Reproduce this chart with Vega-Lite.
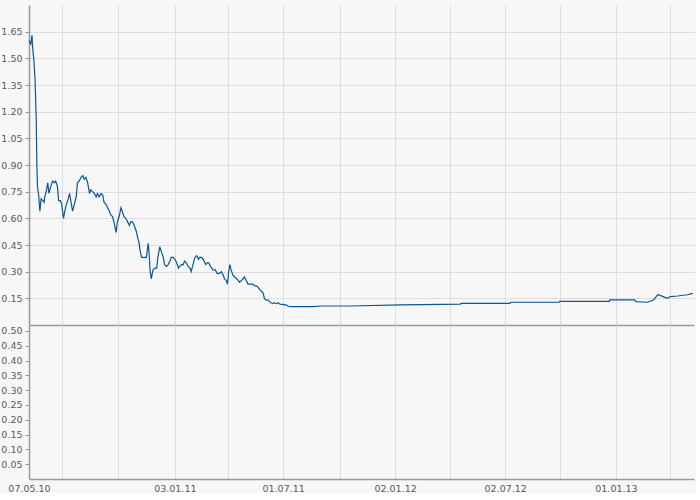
{
  "$schema": "https://vega.github.io/schema/vega-lite/v6.json",
  "background": "#f7f7f7",
  "padding": {"left": 0, "top": 5, "right": 0, "bottom": 0},
  "spacing": 0,
  "data": {
    "values": [
      {"d": "2010-05-07", "v": 1.60}, {"d": "2010-05-10", "v": 1.58}, {"d": "2010-05-12", "v": 1.63},
      {"d": "2010-05-13", "v": 1.56}, {"d": "2010-05-15", "v": 1.49}, {"d": "2010-05-17", "v": 1.38},
      {"d": "2010-05-19", "v": 1.15}, {"d": "2010-05-20", "v": 0.90}, {"d": "2010-05-21", "v": 0.78},
      {"d": "2010-05-23", "v": 0.73}, {"d": "2010-05-25", "v": 0.64}, {"d": "2010-05-27", "v": 0.71},
      {"d": "2010-05-30", "v": 0.70}, {"d": "2010-06-01", "v": 0.69}, {"d": "2010-06-02", "v": 0.72},
      {"d": "2010-06-05", "v": 0.76}, {"d": "2010-06-07", "v": 0.80}, {"d": "2010-06-09", "v": 0.74},
      {"d": "2010-06-12", "v": 0.78}, {"d": "2010-06-15", "v": 0.81}, {"d": "2010-06-18", "v": 0.80},
      {"d": "2010-06-20", "v": 0.81}, {"d": "2010-06-23", "v": 0.78}, {"d": "2010-06-25", "v": 0.70},
      {"d": "2010-06-28", "v": 0.70}, {"d": "2010-06-30", "v": 0.68}, {"d": "2010-07-03", "v": 0.60},
      {"d": "2010-07-04", "v": 0.62}, {"d": "2010-07-07", "v": 0.67}, {"d": "2010-07-10", "v": 0.70},
      {"d": "2010-07-13", "v": 0.74}, {"d": "2010-07-15", "v": 0.70}, {"d": "2010-07-18", "v": 0.64},
      {"d": "2010-07-21", "v": 0.68}, {"d": "2010-07-24", "v": 0.72}, {"d": "2010-07-26", "v": 0.80},
      {"d": "2010-07-29", "v": 0.81}, {"d": "2010-08-01", "v": 0.83}, {"d": "2010-08-04", "v": 0.84},
      {"d": "2010-08-06", "v": 0.82}, {"d": "2010-08-09", "v": 0.83}, {"d": "2010-08-12", "v": 0.80},
      {"d": "2010-08-15", "v": 0.74}, {"d": "2010-08-17", "v": 0.76}, {"d": "2010-08-20", "v": 0.75},
      {"d": "2010-08-23", "v": 0.74}, {"d": "2010-08-26", "v": 0.72}, {"d": "2010-08-28", "v": 0.74},
      {"d": "2010-08-31", "v": 0.72}, {"d": "2010-09-03", "v": 0.74}, {"d": "2010-09-06", "v": 0.73},
      {"d": "2010-09-08", "v": 0.69}, {"d": "2010-09-11", "v": 0.68}, {"d": "2010-09-14", "v": 0.66},
      {"d": "2010-09-17", "v": 0.64}, {"d": "2010-09-19", "v": 0.62}, {"d": "2010-09-22", "v": 0.61},
      {"d": "2010-09-25", "v": 0.57}, {"d": "2010-09-28", "v": 0.52}, {"d": "2010-09-30", "v": 0.58},
      {"d": "2010-10-03", "v": 0.61}, {"d": "2010-10-06", "v": 0.66}, {"d": "2010-10-09", "v": 0.63},
      {"d": "2010-10-11", "v": 0.61}, {"d": "2010-10-14", "v": 0.60}, {"d": "2010-10-17", "v": 0.58},
      {"d": "2010-10-20", "v": 0.56}, {"d": "2010-10-22", "v": 0.58}, {"d": "2010-10-25", "v": 0.58},
      {"d": "2010-10-28", "v": 0.56}, {"d": "2010-10-31", "v": 0.53}, {"d": "2010-11-02", "v": 0.50},
      {"d": "2010-11-05", "v": 0.46}, {"d": "2010-11-06", "v": 0.43}, {"d": "2010-11-09", "v": 0.38},
      {"d": "2010-11-12", "v": 0.38}, {"d": "2010-11-14", "v": 0.38}, {"d": "2010-11-17", "v": 0.38},
      {"d": "2010-11-20", "v": 0.46}, {"d": "2010-11-22", "v": 0.38}, {"d": "2010-11-23", "v": 0.31},
      {"d": "2010-11-25", "v": 0.26}, {"d": "2010-11-28", "v": 0.31}, {"d": "2010-12-01", "v": 0.32},
      {"d": "2010-12-04", "v": 0.32}, {"d": "2010-12-06", "v": 0.38}, {"d": "2010-12-09", "v": 0.44},
      {"d": "2010-12-12", "v": 0.41}, {"d": "2010-12-15", "v": 0.38}, {"d": "2010-12-17", "v": 0.34},
      {"d": "2010-12-20", "v": 0.33}, {"d": "2010-12-23", "v": 0.34}, {"d": "2010-12-26", "v": 0.36},
      {"d": "2010-12-28", "v": 0.38}, {"d": "2010-12-31", "v": 0.38}, {"d": "2011-01-03", "v": 0.37},
      {"d": "2011-01-06", "v": 0.35}, {"d": "2011-01-09", "v": 0.32}, {"d": "2011-01-11", "v": 0.33},
      {"d": "2011-01-14", "v": 0.34}, {"d": "2011-01-17", "v": 0.34}, {"d": "2011-01-19", "v": 0.36},
      {"d": "2011-01-22", "v": 0.35}, {"d": "2011-01-25", "v": 0.33}, {"d": "2011-01-28", "v": 0.32},
      {"d": "2011-01-30", "v": 0.30}, {"d": "2011-02-02", "v": 0.34}, {"d": "2011-02-05", "v": 0.38},
      {"d": "2011-02-08", "v": 0.39}, {"d": "2011-02-11", "v": 0.37}, {"d": "2011-02-13", "v": 0.38},
      {"d": "2011-02-16", "v": 0.38}, {"d": "2011-02-19", "v": 0.37}, {"d": "2011-02-23", "v": 0.34},
      {"d": "2011-02-26", "v": 0.35}, {"d": "2011-02-28", "v": 0.35}, {"d": "2011-03-03", "v": 0.33},
      {"d": "2011-03-07", "v": 0.31}, {"d": "2011-03-11", "v": 0.31}, {"d": "2011-03-14", "v": 0.29},
      {"d": "2011-03-18", "v": 0.29}, {"d": "2011-03-21", "v": 0.30}, {"d": "2011-03-24", "v": 0.28},
      {"d": "2011-03-26", "v": 0.26}, {"d": "2011-03-29", "v": 0.25}, {"d": "2011-03-31", "v": 0.23},
      {"d": "2011-04-02", "v": 0.30}, {"d": "2011-04-04", "v": 0.34}, {"d": "2011-04-06", "v": 0.31},
      {"d": "2011-04-09", "v": 0.28}, {"d": "2011-04-12", "v": 0.27}, {"d": "2011-04-15", "v": 0.26},
      {"d": "2011-04-18", "v": 0.25}, {"d": "2011-04-20", "v": 0.24}, {"d": "2011-04-23", "v": 0.25},
      {"d": "2011-04-26", "v": 0.26}, {"d": "2011-04-28", "v": 0.27}, {"d": "2011-05-01", "v": 0.25},
      {"d": "2011-05-04", "v": 0.23}, {"d": "2011-05-07", "v": 0.23}, {"d": "2011-05-09", "v": 0.23},
      {"d": "2011-05-12", "v": 0.23}, {"d": "2011-05-15", "v": 0.22}, {"d": "2011-05-18", "v": 0.22},
      {"d": "2011-05-21", "v": 0.21}, {"d": "2011-05-23", "v": 0.20}, {"d": "2011-05-26", "v": 0.19},
      {"d": "2011-05-29", "v": 0.18}, {"d": "2011-05-31", "v": 0.15}, {"d": "2011-06-03", "v": 0.14},
      {"d": "2011-06-06", "v": 0.14}, {"d": "2011-06-09", "v": 0.13}, {"d": "2011-06-11", "v": 0.125},
      {"d": "2011-06-14", "v": 0.12}, {"d": "2011-06-17", "v": 0.125}, {"d": "2011-06-20", "v": 0.12},
      {"d": "2011-06-23", "v": 0.125}, {"d": "2011-06-25", "v": 0.118}, {"d": "2011-06-28", "v": 0.116},
      {"d": "2011-07-01", "v": 0.116}, {"d": "2011-07-03", "v": 0.113}, {"d": "2011-07-06", "v": 0.113},
      {"d": "2011-07-09", "v": 0.107}, {"d": "2011-07-12", "v": 0.103}, {"d": "2011-08-19", "v": 0.103},
      {"d": "2011-09-02", "v": 0.107}, {"d": "2011-10-20", "v": 0.107}, {"d": "2012-01-12", "v": 0.113},
      {"d": "2012-04-19", "v": 0.117}, {"d": "2012-04-20", "v": 0.122}, {"d": "2012-07-10", "v": 0.122},
      {"d": "2012-07-11", "v": 0.128}, {"d": "2012-09-29", "v": 0.128}, {"d": "2012-09-30", "v": 0.133},
      {"d": "2012-12-21", "v": 0.133}, {"d": "2012-12-22", "v": 0.141}, {"d": "2013-02-01", "v": 0.141},
      {"d": "2013-02-03", "v": 0.131}, {"d": "2013-02-22", "v": 0.128}, {"d": "2013-03-04", "v": 0.14},
      {"d": "2013-03-11", "v": 0.17}, {"d": "2013-03-16", "v": 0.165}, {"d": "2013-03-27", "v": 0.15},
      {"d": "2013-04-01", "v": 0.16}, {"d": "2013-04-13", "v": 0.163}, {"d": "2013-04-29", "v": 0.17},
      {"d": "2013-05-08", "v": 0.178}
    ]
  },
  "vconcat": [
    {
      "width": 665,
      "height": 320,
      "mark": {"type": "line", "color": "#0b5697", "strokeWidth": 1.2},
      "encoding": {
        "x": {
          "field": "d",
          "type": "temporal",
          "title": null,
          "scale": {
            "domain": [
              {"year": 2010, "month": 5, "date": 7, "utc": true},
              {"year": 2013, "month": 5, "date": 10, "utc": true}
            ]
          },
          "axis": {
            "labels": false,
            "ticks": false,
            "values": [
              {"year": 2010, "month": 7, "date": 1, "utc": true},
              {"year": 2010, "month": 10, "date": 1, "utc": true},
              {"year": 2011, "month": 1, "date": 3, "utc": true},
              {"year": 2011, "month": 4, "date": 1, "utc": true},
              {"year": 2011, "month": 7, "date": 1, "utc": true},
              {"year": 2011, "month": 10, "date": 3, "utc": true},
              {"year": 2012, "month": 1, "date": 2, "utc": true},
              {"year": 2012, "month": 4, "date": 2, "utc": true},
              {"year": 2012, "month": 7, "date": 2, "utc": true},
              {"year": 2012, "month": 10, "date": 1, "utc": true},
              {"year": 2013, "month": 1, "date": 1, "utc": true},
              {"year": 2013, "month": 4, "date": 1, "utc": true}
            ]
          }
        },
        "y": {
          "field": "v",
          "type": "quantitative",
          "title": null,
          "scale": {"domain": [0, 1.8], "nice": false, "zero": true},
          "axis": {
            "values": [0.15, 0.3, 0.45, 0.6, 0.75, 0.9, 1.05, 1.2, 1.35, 1.5, 1.65],
            "format": ".2f"
          }
        }
      }
    },
    {
      "width": 665,
      "height": 154,
      "mark": {"type": "point", "opacity": 0},
      "encoding": {
        "x": {
          "field": "d",
          "type": "temporal",
          "title": null,
          "scale": {
            "domain": [
              {"year": 2010, "month": 5, "date": 7, "utc": true},
              {"year": 2013, "month": 5, "date": 10, "utc": true}
            ]
          },
          "axis": {
            "ticks": false,
            "labelFlush": false,
            "labelOverlap": false,
            "labelPadding": 4,
            "values": [
              {"year": 2010, "month": 5, "date": 7, "utc": true},
              {"year": 2010, "month": 7, "date": 1, "utc": true},
              {"year": 2010, "month": 10, "date": 1, "utc": true},
              {"year": 2011, "month": 1, "date": 3, "utc": true},
              {"year": 2011, "month": 4, "date": 1, "utc": true},
              {"year": 2011, "month": 7, "date": 1, "utc": true},
              {"year": 2011, "month": 10, "date": 3, "utc": true},
              {"year": 2012, "month": 1, "date": 2, "utc": true},
              {"year": 2012, "month": 4, "date": 2, "utc": true},
              {"year": 2012, "month": 7, "date": 2, "utc": true},
              {"year": 2012, "month": 10, "date": 1, "utc": true},
              {"year": 2013, "month": 1, "date": 1, "utc": true},
              {"year": 2013, "month": 4, "date": 1, "utc": true}
            ],
            "labelExpr": "(datum.index == 0 || (utcmonth(datum.value) % 6 == 0 && utcyear(datum.value) > 2010)) ? utcFormat(datum.value, '%d.%m.%y') : ''"
          }
        },
        "y": {
          "datum": 0,
          "type": "quantitative",
          "title": null,
          "scale": {"domain": [0, 0.52], "nice": false},
          "axis": {
            "values": [0.05, 0.1, 0.15, 0.2, 0.25, 0.3, 0.35, 0.4, 0.45, 0.5],
            "format": ".2f"
          }
        }
      }
    }
  ],
  "config": {
    "view": {"stroke": null},
    "axis": {
      "labelFont": "DejaVu Sans",
      "labelFontSize": 9.5,
      "labelColor": "#5a5a5a",
      "gridColor": "#dddddd",
      "gridWidth": 1,
      "domainColor": "#999999",
      "domainWidth": 1.5,
      "tickColor": "#999999",
      "tickSize": 4,
      "labelPadding": 3
    }
  }
}
